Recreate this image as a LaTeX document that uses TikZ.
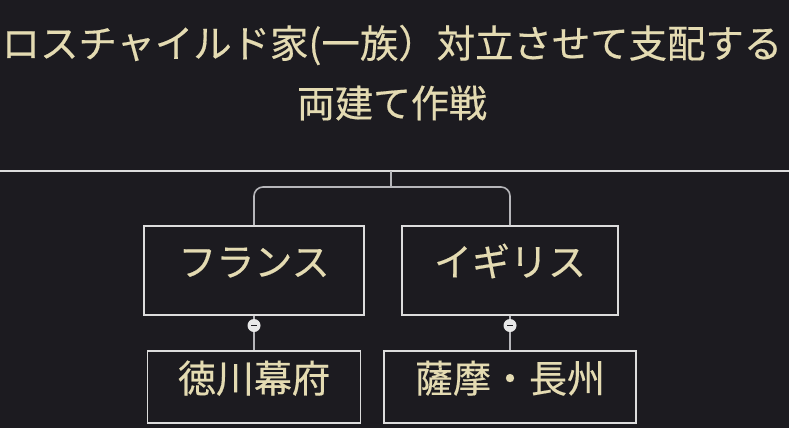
\documentclass[tikz,border=0pt]{standalone}
\usepackage{fontspec}
\setmainfont[FakeBold=0.4]{Noto Sans CJK JP}
\definecolor{bg}{HTML}{1C1B20}
\definecolor{cream}{HTML}{E4DBB2}
\definecolor{edge}{HTML}{DCDCDC}
\definecolor{link}{HTML}{B6B6BA}
\begin{document}
\begin{tikzpicture}[x=1pt,y=-1pt,
        every node/.style={text=cream,font=\fontsize{38}{46}\selectfont},
        box/.style={draw=edge,line width=1.6pt,text height=33pt,text depth=22pt},
        knob/.style={circle,fill=white!82!gray,minimum size=13pt,inner sep=0pt}]
    \fill[bg] (0,0) rectangle (789,428);
    \useasboundingbox (0,0) rectangle (789,428);
    \node[font=\fontsize{38.4}{46}\selectfont] (title) at (392,45) {ロスチャイルド家(一族）対立させて支配する};
    \node (plan) at (392,103) {両建て作戦};
    \coordinate (barL) at (0,171);
    \coordinate (barR) at (789,171);
    \coordinate (hub) at (391,171);
    \coordinate (fork) at (391,187);
    \node[box,minimum width=220pt,minimum height=89pt] (fr) at (254,270.5) {フランス};
    \node[box,minimum width=216pt,minimum height=89pt] (uk) at (510,270.5) {イギリス};
    \node[box,minimum width=213pt,minimum height=72pt] (tk) at (254,387) {徳川幕府};
    \node[box,minimum width=252pt,minimum height=72pt] (ss) at (510,387) {薩摩・長州};
    \node[knob] (k1) at (254,325.5) {};
    \node[knob] (k2) at (510,325.5) {};
    \draw[edge,line width=1.6pt] (barL) -- (barR);
    \draw[link,line width=1.6pt] (hub) -- (fork);
    \draw[link,line width=1.6pt,rounded corners=9pt] (fork) -| (fr.north);
    \draw[link,line width=1.6pt,rounded corners=9pt] (fork) -| (uk.north);
    \draw[link,line width=1.4pt] (fr.south) -- (k1) -- (tk.north);
    \draw[link,line width=1.4pt] (uk.south) -- (k2) -- (ss.north);
    \draw[bg,line width=1pt] ([xshift=-3pt]k1.center) -- ([xshift=3pt]k1.center);
    \draw[bg,line width=1pt] ([xshift=-3pt]k2.center) -- ([xshift=3pt]k2.center);
\end{tikzpicture}
\end{document}
